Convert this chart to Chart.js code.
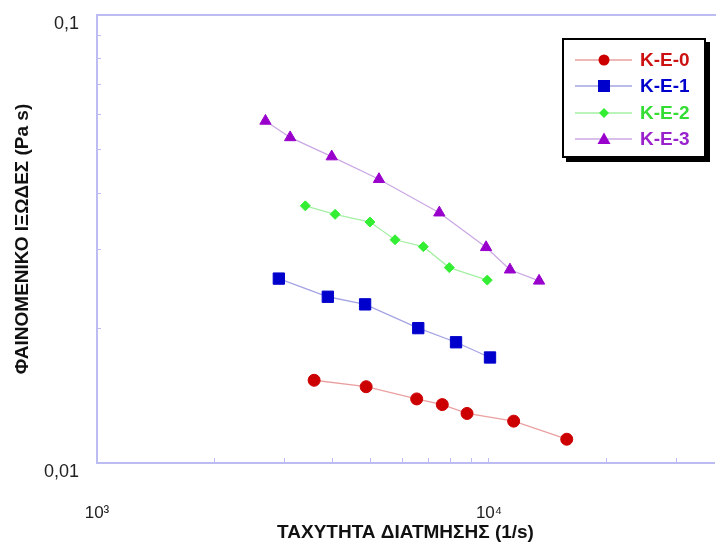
<!DOCTYPE html>
<html>
<head>
<meta charset="utf-8">
<script src="https://cdn.jsdelivr.net/npm/chart.js@4.4.0/dist/chart.umd.min.js"></script>
<style>
  body { margin: 0; background: #fff; }
  #wrap { position: relative; width: 716px; height: 544px; }
  #legend {
    position: absolute; left: 562px; top: 38px; width: 140px; height: 116px;
    border: 2px solid #000; box-shadow: 4px 4px 0 #000; background: #fff;
    font: bold 19px "Liberation Sans", Arial, sans-serif;
  }
  .row { position: absolute; left: 0; width: 140px; height: 20px; }
  .row svg { position: absolute; left: 11px; top: 0; }
  .row span { position: absolute; left: 76px; top: -1px; line-height: 22px; }
</style>
</head>
<body>
<div id="wrap">
  <canvas id="viscChart" width="716" height="544"></canvas>
  <div id="legend"></div>
</div>
<script>
// Datos (velocidad de corte 1/s, viscosidad Pa s)
const ke0X = [3580, 4860, 6540, 7600, 8790, 11560, 15790];
const ke0Y = [0.0153, 0.0148, 0.0139, 0.0135, 0.0129, 0.0124, 0.0113];

const ke1X = [2910, 3880, 4830, 6600, 8240, 10060];
const ke1Y = [0.0258, 0.0235, 0.0226, 0.0200, 0.0186, 0.0172];

const ke2X = [3400, 4050, 4970, 5760, 6800, 7920, 9900];
const ke2Y = [0.0375, 0.0359, 0.0345, 0.0315, 0.0304, 0.0273, 0.0256];

const ke3X = [2690, 3110, 3970, 5240, 7470, 9830, 11310, 13420];
const ke3Y = [0.0580, 0.0533, 0.0483, 0.0430, 0.0362, 0.0303, 0.0270, 0.0255];

const seriesNames = ['K-E-0', 'K-E-1', 'K-E-2', 'K-E-3'];

// Marcas de los ejes
const xTicks = [1000, 2000, 3000, 4000, 5000, 6000, 7000, 8000, 9000, 10000, 20000, 30000];
const xTickLabels = { 1000: '10³', 10000: '10⁴' };
const yTicks = [0.01, 0.02, 0.03, 0.04, 0.05, 0.06, 0.07, 0.08, 0.09, 0.1];
const yTickLabels = ['0,01', '', '', '', '', '', '', '', '', '0,1'];

const markerColors = ['#cc0000', '#0000cc', '#33ee33', '#9900cc'];
const lineColors = ['#eaa0a0', '#a4a4e4', '#a4f0a4', '#cba8e4'];
const textColors = ['#cc1111', '#0000cc', '#33dd33', '#9922cc'];
const pointStyles = ['circle', 'rect', 'rectRot', 'triangle'];
const pointSizes = [6, 8, 5, 6.5];

const axisColor = '#bcbcf2';
const fontFamily = '"Liberation Sans", Arial, sans-serif';

function toPoints(xs, ys) {
    return xs.map((x, i) => ({ x: x, y: ys[i] }));
}

const allData = [toPoints(ke0X, ke0Y), toPoints(ke1X, ke1Y), toPoints(ke2X, ke2Y), toPoints(ke3X, ke3Y)];

const datasets = allData.map((pts, i) => ({
    label: seriesNames[i],
    data: pts,
    showLine: true,
    borderColor: lineColors[i],
    borderWidth: 1.3,
    pointStyle: pointStyles[i],
    pointRadius: pointSizes[i],
    pointBackgroundColor: markerColors[i],
    pointBorderColor: markerColors[i],
    pointBorderWidth: 1
}));

// Borde superior del area del grafico
const topFrame = {
    id: 'topFrame',
    afterDraw(chart) {
        const a = chart.chartArea;
        const c = chart.ctx;
        c.save();
        c.strokeStyle = axisColor;
        c.lineWidth = 2;
        c.beginPath();
        c.moveTo(a.left, a.top);
        c.lineTo(716, a.top);
        c.stroke();
        c.restore();
    }
};

const ctx = document.getElementById('viscChart').getContext('2d');
const myChart = new Chart(ctx, {
    type: 'scatter',
    data: { datasets: datasets },
    options: {
        responsive: false,
        animation: false,
        layout: { autoPadding: false, padding: { left: 0, top: 15, right: 2, bottom: 0 } },
        plugins: {
            legend: { display: false },
            tooltip: { enabled: false }
        },
        scales: {
            x: {
                type: 'logarithmic',
                min: 1000,
                max: 37500,
                afterBuildTicks: (scale) => { scale.ticks = xTicks.map(v => ({ value: v })); },
                afterFit: (scale) => {
                    scale.height = 81;
                    scale.paddingLeft = 0;
                    scale.paddingRight = 0;
                },
                border: { color: axisColor, width: 2 },
                grid: { drawOnChartArea: false, tickLength: -5, color: axisColor, lineWidth: 1 },
                ticks: {
                    autoSkip: false,
                    maxRotation: 0,
                    padding: 45,
                    color: '#222',
                    font: { family: fontFamily, size: 17 },
                    callback: (v) => xTickLabels[v] || ''
                },
                title: {
                    display: true,
                    text: 'ΤΑΧΥΤΗΤΑ ΔΙΑΤΜΗΣΗΣ (1/s)',
                    color: '#111',
                    padding: { top: 0, bottom: 0 },
                    font: { family: fontFamily, size: 19, weight: 'bold' }
                }
            },
            y: {
                type: 'logarithmic',
                min: 0.01,
                max: 0.1,
                afterBuildTicks: (scale) => { scale.ticks = yTicks.map(v => ({ value: v })); },
                afterFit: (scale) => {
                    scale.width = 97;
                    scale.paddingTop = 0;
                    scale.paddingBottom = 0;
                },
                border: { color: axisColor, width: 2 },
                grid: { drawOnChartArea: false, tickLength: -4, color: axisColor, lineWidth: 1 },
                ticks: {
                    autoSkip: false,
                    padding: 22,
                    labelOffset: 9,
                    color: '#222',
                    font: { family: fontFamily, size: 18 },
                    callback: (v, i) => yTickLabels[i]
                },
                title: {
                    display: true,
                    text: 'ΦΑΙΝΟΜΕΝΙΚΟ ΙΞΩΔΕΣ (Pa s)',
                    color: '#111',
                    padding: { top: 11, bottom: 0 },
                    font: { family: fontFamily, size: 19, weight: 'bold' }
                }
            }
        }
    },
    plugins: [topFrame]
});

// Leyenda en HTML con linea + marcador
function markerSvg(i) {
    const col = markerColors[i];
    let m = '';
    if (pointStyles[i] === 'circle') m = `<circle cx="29" cy="10" r="5.5" fill="${col}"/>`;
    if (pointStyles[i] === 'rect') m = `<rect x="23" y="4" width="12" height="12" fill="${col}"/>`;
    if (pointStyles[i] === 'rectRot') m = `<polygon points="29,5 34,10 29,15 24,10" fill="${col}"/>`;
    if (pointStyles[i] === 'triangle') m = `<polygon points="29,3.5 35.5,15 22.5,15" fill="${col}"/>`;
    return `<svg width="58" height="20"><line x1="0" y1="10" x2="57" y2="10" stroke="${lineColors[i]}" stroke-width="1.5"/>${m}</svg>`;
}

const legendDiv = document.getElementById('legend');
seriesNames.forEach((name, i) => {
    const row = document.createElement('div');
    row.className = 'row';
    row.style.top = (9.5 + 26.6 * i) + 'px';
    row.innerHTML = markerSvg(i) + `<span style="color:${textColors[i]}">${name}</span>`;
    legendDiv.appendChild(row);
});
</script>
</body>
</html>
